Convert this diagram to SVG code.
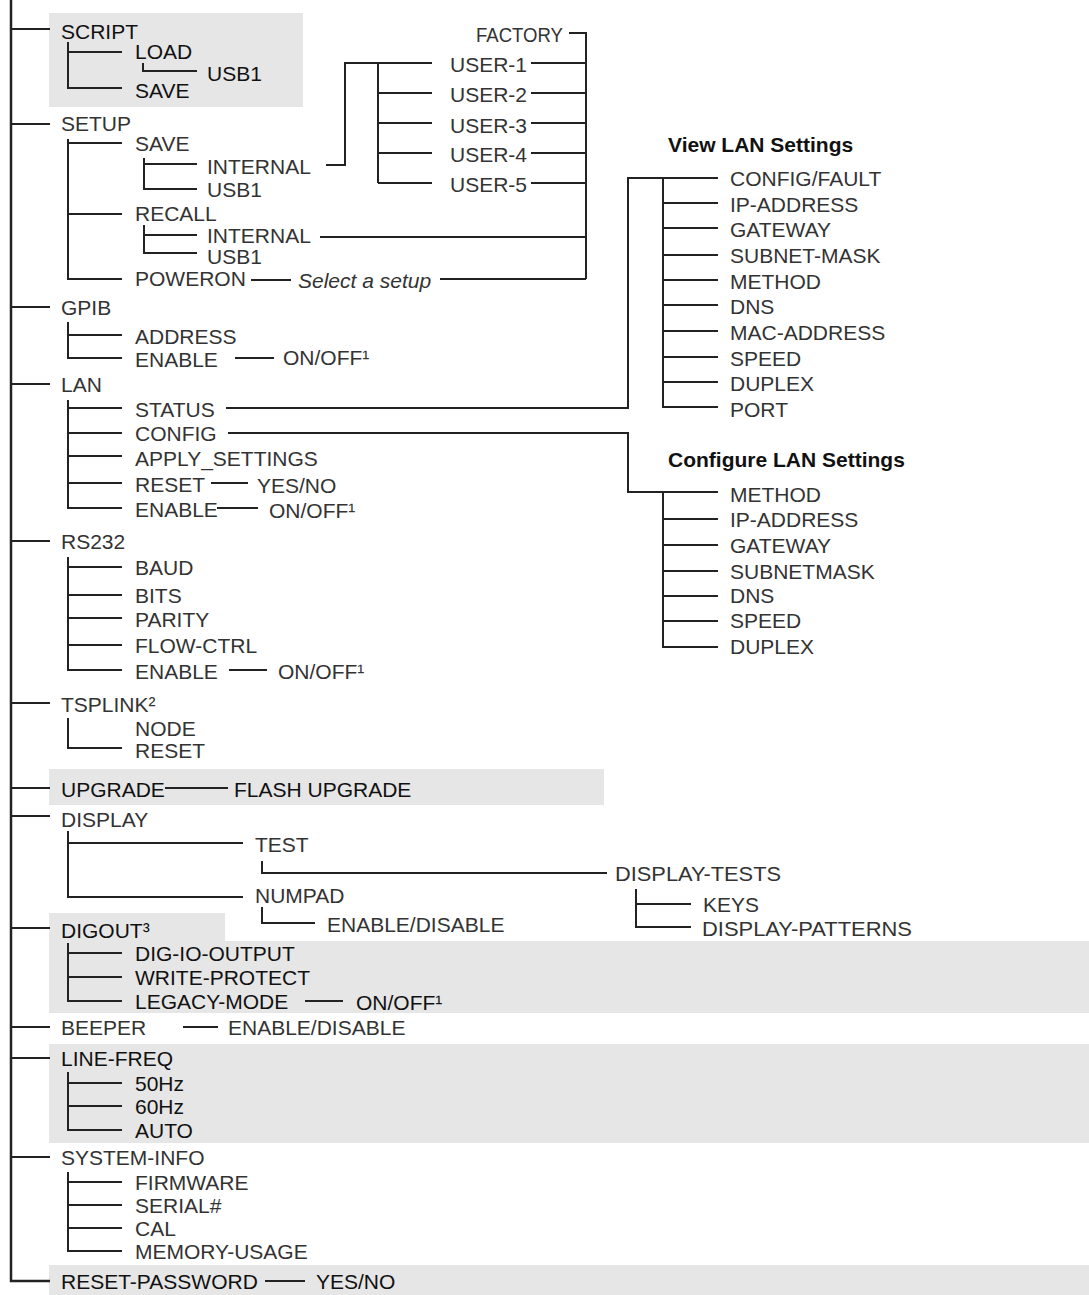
<svg xmlns="http://www.w3.org/2000/svg" width="1089" height="1295" viewBox="0 0 1089 1295">
<style>
  .t{font-family:"Liberation Sans",Arial,Helvetica,sans-serif;font-size:21px;fill:#333}
  .h{fill:#111}
  .i{font-style:italic}
  .b{font-weight:bold;font-size:21px;fill:#111}
  .ln{fill:none;stroke:#222;stroke-width:2}
  .tr{fill:none;stroke:#222;stroke-width:2.5}
  .bx{fill:#e6e6e6}
</style>
<rect width="1089" height="1295" fill="#fff"/>
<g id="highlights">
  <rect class="bx" x="49" y="13" width="254" height="94"/>
  <rect class="bx" x="49" y="769" width="555" height="36"/>
  <polygon class="bx" points="49,913 225,913 225,941 1089,941 1089,1013 49,1013"/>
  <rect class="bx" x="49" y="1044" width="1040" height="99"/>
  <rect class="bx" x="49" y="1265" width="1040" height="30"/>
</g>
<g id="connectors">
  <path class="tr" d="M11,0 V1281 H50"/>
  <path class="ln" d="M11,29 H50 M11,124 H50 M11,307 H50 M11,384 H50 M11,541 H50 M11,703 H50 M11,788 H50 M11,816 H50 M11,928 H50 M11,1027 H50 M11,1058 H50 M11,1157 H50"/>
  <path class="ln" d="M68,42 V88 H122 M68,52 H122 M143,63 V71 H197"/>
  <path class="ln" d="M68,139 V279 H122 M68,143 H122 M68,214 H122"/>
  <path class="ln" d="M144,158 V189 H197 M144,164 H197 M144,225 V253 H197 M144,235 H197"/>
  <path class="ln" d="M326,165 H345 V63 H432 M378,63 V183 M378,93 H432 M378,123 H432 M378,153 H432 M378,183 H432"/>
  <path class="ln" d="M569,33 H586 V279 M531,63 H586 M531,93 H586 M531,123 H586 M531,153 H586 M531,183 H586 M320,237 H586 M440,279 H586"/>
  <path class="ln" d="M251,280 H291"/>
  <path class="ln" d="M68,322 V358 H122 M68,335 H122 M235,358 H274"/>
  <path class="ln" d="M68,400 V508 H122 M68,408 H122 M68,433 H122 M68,456 H122 M68,483 H122 M211,483 H248 M217,508 H258"/>
  <path class="ln" d="M226,408 H628 V178 H718 M663,178 V407 H718 M663,203 H718 M663,228 H718 M663,255 H718 M663,280 H718 M663,305 H718 M663,331 H718 M663,357 H718 M663,382 H718"/>
  <path class="ln" d="M228,433 H628 V492 H718 M663,492 V647 H718 M663,519 H718 M663,545 H718 M663,571 H718 M663,596 H718 M663,621 H718"/>
  <path class="ln" d="M68,557 V670 H122 M68,567 H122 M68,595 H122 M68,618 H122 M68,645 H122 M229,670 H267"/>
  <path class="ln" d="M68,718 V748 H122"/>
  <path class="ln" d="M165,788 H228"/>
  <path class="ln" d="M68,831 V897 H243 M68,843 H243 M262,861 V873 H607 M262,907 V923 H315 M636,889 V927 H691 M636,904 H691"/>
  <path class="ln" d="M68,943 V1001 H122 M68,953 H122 M68,977 H122 M305,1001 H343"/>
  <path class="ln" d="M183,1027 H218"/>
  <path class="ln" d="M68,1072 V1130 H122 M68,1083 H122 M68,1106 H122"/>
  <path class="ln" d="M68,1172 V1251 H122 M68,1182 H122 M68,1205 H122 M68,1228 H122"/>
  <path class="ln" d="M265,1281 H305"/>
</g>
<g id="node-script" class="t h">
  <text x="61" y="39">SCRIPT</text>
  <text x="135" y="59">LOAD</text>
  <text x="207" y="81">USB1</text>
  <text x="135" y="98">SAVE</text>
</g>
<g id="node-setup" class="t">
  <text x="61" y="131">SETUP</text>
  <text x="135" y="151">SAVE</text>
  <text x="207" y="174">INTERNAL</text>
  <text x="207" y="197">USB1</text>
  <text x="135" y="221">RECALL</text>
  <text x="207" y="243">INTERNAL</text>
  <text x="207" y="264">USB1</text>
  <text x="135" y="286">POWERON</text>
  <text class="i" x="298" y="288">Select a setup</text>
</g>
<g id="node-setups" class="t">
  <text x="476" y="42" textLength="87" lengthAdjust="spacingAndGlyphs">FACTORY</text>
  <text x="450" y="72">USER-1</text>
  <text x="450" y="102">USER-2</text>
  <text x="450" y="133">USER-3</text>
  <text x="450" y="162">USER-4</text>
  <text x="450" y="192">USER-5</text>
</g>
<g id="node-view-lan" class="t">
  <text class="b" x="668" y="152">View LAN Settings</text>
  <text x="730" y="186">CONFIG/FAULT</text>
  <text x="730" y="212">IP-ADDRESS</text>
  <text x="730" y="237">GATEWAY</text>
  <text x="730" y="263">SUBNET-MASK</text>
  <text x="730" y="289">METHOD</text>
  <text x="730" y="314">DNS</text>
  <text x="730" y="340">MAC-ADDRESS</text>
  <text x="730" y="366">SPEED</text>
  <text x="730" y="391">DUPLEX</text>
  <text x="730" y="417">PORT</text>
</g>
<g id="node-config-lan" class="t">
  <text class="b" x="668" y="467">Configure LAN Settings</text>
  <text x="730" y="502">METHOD</text>
  <text x="730" y="527">IP-ADDRESS</text>
  <text x="730" y="553">GATEWAY</text>
  <text x="730" y="579">SUBNETMASK</text>
  <text x="730" y="603">DNS</text>
  <text x="730" y="628">SPEED</text>
  <text x="730" y="654">DUPLEX</text>
</g>
<g id="node-gpib" class="t">
  <text x="61" y="315">GPIB</text>
  <text x="135" y="344">ADDRESS</text>
  <text x="135" y="367">ENABLE</text>
  <text x="283" y="365">ON/OFF¹</text>
</g>
<g id="node-lan" class="t">
  <text x="61" y="392">LAN</text>
  <text x="135" y="417">STATUS</text>
  <text x="135" y="441">CONFIG</text>
  <text x="135" y="466">APPLY_SETTINGS</text>
  <text x="135" y="492">RESET</text>
  <text x="257" y="493">YES/NO</text>
  <text x="135" y="517">ENABLE</text>
  <text x="269" y="518">ON/OFF¹</text>
</g>
<g id="node-rs232" class="t">
  <text x="61" y="549">RS232</text>
  <text x="135" y="575">BAUD</text>
  <text x="135" y="603">BITS</text>
  <text x="135" y="627">PARITY</text>
  <text x="135" y="653">FLOW-CTRL</text>
  <text x="135" y="679">ENABLE</text>
  <text x="278" y="679">ON/OFF¹</text>
</g>
<g id="node-tsplink" class="t">
  <text x="61" y="712">TSPLINK²</text>
  <text x="135" y="736">NODE</text>
  <text x="135" y="758">RESET</text>
</g>
<g id="node-upgrade" class="t h">
  <text x="61" y="797">UPGRADE</text>
  <text x="234" y="797">FLASH UPGRADE</text>
</g>
<g id="node-display" class="t">
  <text x="61" y="827">DISPLAY</text>
  <text x="255" y="852">TEST</text>
  <text x="615" y="881" textLength="166" lengthAdjust="spacingAndGlyphs">DISPLAY-TESTS</text>
  <text x="255" y="903">NUMPAD</text>
  <text x="703" y="912">KEYS</text>
  <text x="327" y="932">ENABLE/DISABLE</text>
  <text x="702" y="936" textLength="210" lengthAdjust="spacingAndGlyphs">DISPLAY-PATTERNS</text>
</g>
<g id="node-digout" class="t h">
  <text x="61" y="938">DIGOUT³</text>
  <text x="135" y="961">DIG-IO-OUTPUT</text>
  <text x="135" y="985">WRITE-PROTECT</text>
  <text x="135" y="1009">LEGACY-MODE</text>
  <text x="356" y="1010">ON/OFF¹</text>
</g>
<g id="node-beeper" class="t">
  <text x="61" y="1035">BEEPER</text>
  <text x="228" y="1035">ENABLE/DISABLE</text>
</g>
<g id="node-linefreq" class="t h">
  <text x="61" y="1066">LINE-FREQ</text>
  <text x="135" y="1091">50Hz</text>
  <text x="135" y="1114">60Hz</text>
  <text x="135" y="1138">AUTO</text>
</g>
<g id="node-sysinfo" class="t">
  <text x="61" y="1165">SYSTEM-INFO</text>
  <text x="135" y="1190">FIRMWARE</text>
  <text x="135" y="1213">SERIAL#</text>
  <text x="135" y="1236">CAL</text>
  <text x="135" y="1259">MEMORY-USAGE</text>
</g>
<g id="node-resetpw" class="t h">
  <text x="61" y="1289">RESET-PASSWORD</text>
  <text x="316" y="1289">YES/NO</text>
</g>
</svg>
